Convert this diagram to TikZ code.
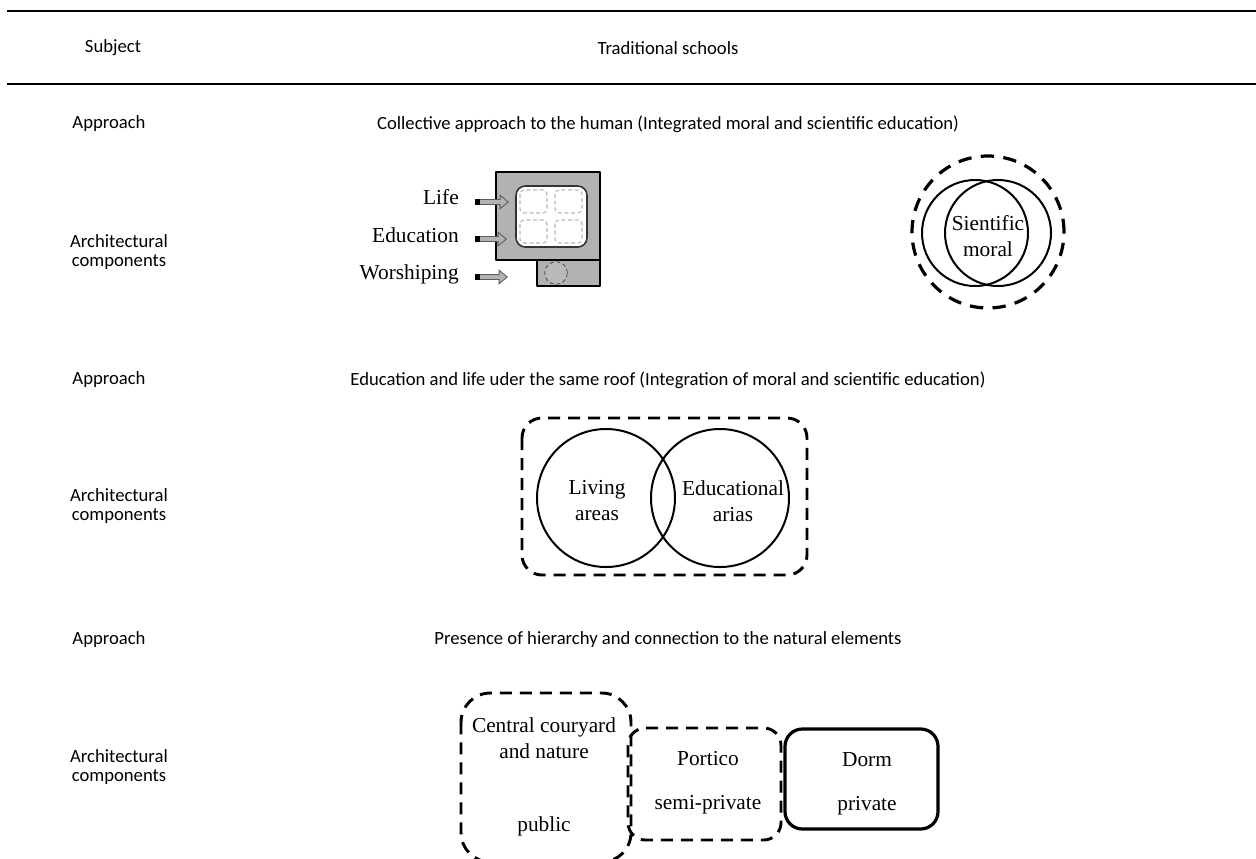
\documentclass[tikz,border=0pt]{standalone}
\usepackage{fontspec}
\setmainfont{Liberation Serif}
\newfontfamily\tabfont{Carlito}
\usetikzlibrary{arrows.meta}
\begin{document}
\begin{tikzpicture}[x=0.75pt, y=-0.75pt, line join=round,
cell/.style={font=\tabfont\fontsize{14}{14.5}\selectfont, inner sep=0pt, align=center},
lbl/.style={font=\fontsize{16}{19.5}\selectfont, inner sep=0pt, align=center},
rule/.style={line width=1.5pt},
ring/.style={circle, draw=black, line width=1.5pt, inner sep=0pt},
dashbox/.style={draw=black, line width=2.2pt, dash pattern=on 9pt off 6pt, rounded corners=15pt},
pipeout/.style={draw=black!65, line width=5pt, -{Triangle[length=7pt,width=11pt]}},
pipe/.style={draw=gray!60, line width=3pt, shorten >=1.2pt, -{Triangle[length=5pt,width=8pt]}}]
\useasboundingbox (0,0) rectangle (1256,858);
\draw[rule] (7,11) -- (1256,11);
\draw[rule] (7,84) -- (1256,84);
\begin{scope}[every node/.style={cell}]
\node (subj) at (113,48) {Subject};
\node (trad) at (668,48) {Traditional schools};
\node (ap1) at (109,124) {Approach};%1
\node (ap1t) at (668,124) {Collective approach to the human (Integrated moral and scientific education)};
\node (ac1) at (119,252) {Architectural\\components};
\node (ap2) at (109,380) {Approach};%2
\node (ap2t) at (668,380) {Education and life uder the same roof (Integration of moral and scientific education)};
\node (ac2) at (119,506) {Architectural\\components};
\node (ap3) at (109,640) {Approach};%3
\node (ap3t) at (668,640) {Presence of hierarchy and connection to the natural elements};
\node (ac3) at (119,767) {Architectural\\components};
\end{scope}
% building
\draw[line width=1.2pt, fill=gray!60] (496,172) rectangle (600,260);
\draw[line width=1.2pt, draw=black!80, fill=white, rounded corners=7pt] (516,186) rectangle (587,247);
\foreach \x in {520,555}
  \foreach \y in {190,220}
    \draw[draw=gray!55, line width=0.8pt, densely dashed, rounded corners=3pt] (\x,\y) rectangle ++(27,23);
\draw[line width=1.2pt, fill=gray!60] (537,260) rectangle (600,286);
\node[circle, minimum size=17pt, inner sep=0pt, fill=gray!55, draw=black!70, densely dashed, line width=0.6pt] (wc) at (556,273) {};
\node[lbl, anchor=base east] (life) at (459,204) {Life};
\node[lbl, anchor=base east] (educ) at (459,242) {Education};
\node[lbl, anchor=base east] (wors) at (459,279) {Worshiping};
\foreach \n/\y/\t in {1/202/509, 2/239/507, 3/277/508} {
  \coordinate (a\n) at (475,\y);
  \coordinate (b\n) at (\t,\y);
  \draw[pipeout] (a\n) -- (b\n);
  \draw[pipe] (a\n) -- (b\n);
  \draw[line width=5pt] (a\n) -- ++(5,0);
}
% sientific / moral
\node[ring, line width=2.4pt, dash pattern=on 10pt off 7pt, minimum size=114pt] (outer) at (988,232) {};
\node[ring, minimum size=79.5pt] (sc) at (975,233) {};
\node[ring, minimum size=79.5pt] (mo) at (998,233) {};
\node[lbl] (scl) at (988,236) {Sientific\\moral};
% living / educational
\draw[dashbox] (522,418) rectangle (807,575);
\node[ring, minimum size=103.5pt] (liv) at (606,498) {};
\node[ring, minimum size=103.5pt] (edu) at (720,498) {};
\node[lbl] (livl) at (597,501) {Living\\areas};
\node[lbl] (edul) at (733,501) {Educational\\arias};
% hierarchy
\draw[dashbox, rounded corners=22pt] (461,693) rectangle (631,862);
\draw[dashbox, rounded corners=13pt] (628,728) rectangle (781,840);
\draw[line width=2.4pt, rounded corners=13pt] (785,729) rectangle (938,829);
\node[lbl] (cour) at (544,738) {Central couryard\\and nature};
\node[lbl] (pub) at (544,826) {public};
\node[lbl] (port) at (708,759) {Portico};
\node[lbl] (semi) at (708,805) {semi-private};
\node[lbl] (dorm) at (867,760) {Dorm};
\node[lbl] (priv) at (867,806) {private};
\end{tikzpicture}
\end{document}
